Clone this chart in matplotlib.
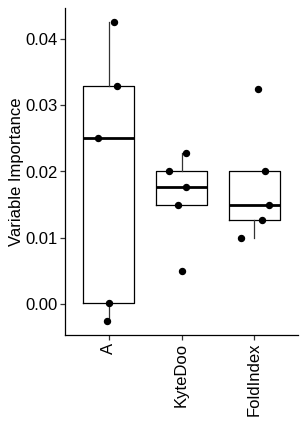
import numpy as np
import matplotlib
matplotlib.use("Agg")
import matplotlib.pyplot as plt

plt.rcParams['font.family'] = ['Liberation Sans', 'DejaVu Sans']

# values
categories = ["A", "KyteDoo", "FoldIndex"]
imp_A = [0.0426, 0.0329, 0.0250, 0.0001, -0.0027]
imp_kyte = [0.0200, 0.0228, 0.0176, 0.0150, 0.0049]
imp_fold = [0.0325, 0.0200, 0.0149, 0.0126, 0.0100]
# horizontal jitter of the points (in category units)
jit_A = [0.07, 0.11, -0.14, 0.0, -0.02]
jit_kyte = [-0.17, 0.055, 0.055, -0.05, 0.0]
jit_fold = [0.05, 0.15, 0.20, 0.11, -0.18]

values = [imp_A, imp_kyte, imp_fold]
jitters = [jit_A, jit_kyte, jit_fold]
yticks = [0.00, 0.01, 0.02, 0.03, 0.04]

fig = plt.figure(figsize=(3.07, 4.41), dpi=100)
ax = fig.add_axes([65/307, 106/441, 233/307, 327/441])

pos = np.arange(1, len(categories) + 1)
ax.boxplot(values, positions=pos, widths=0.7, whis=1.5, showfliers=False,
           boxprops=dict(color="black", linewidth=0.9),
           whiskerprops=dict(color="#333333", linewidth=0.9),
           capprops=dict(linewidth=0),
           medianprops=dict(color="black", linewidth=2.0))

for p, v, j in zip(pos, values, jitters):
    ax.plot(p + np.array(j), v, "o", color="black", ms=4.3, zorder=3)

ax.set_xlim(0.4, 3.6)
ax.set_ylim(-0.00475, 0.04475)
ax.set_yticks(yticks)
ax.set_yticklabels([f"{t:.2f}" for t in yticks])
ax.set_xticks(pos)
ax.set_xticklabels(categories, rotation=90)
ax.set_ylabel("Variable Importance", fontsize=12, color="black", labelpad=1)

ax.spines["top"].set_visible(False)
ax.spines["right"].set_visible(False)
for s in ["left", "bottom"]:
    ax.spines[s].set_linewidth(0.9)
ax.tick_params(axis="both", labelsize=12, labelcolor="black", color="#333333",
               length=3.5, width=0.9, pad=2)

plt.savefig("out.png", dpi=100)
